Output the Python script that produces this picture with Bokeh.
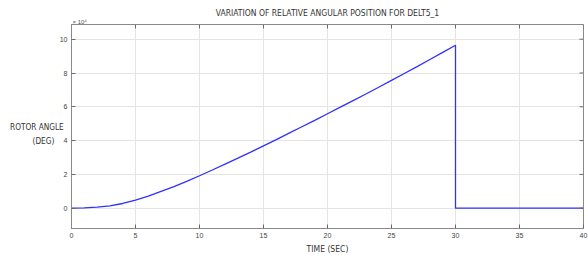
import math
from bokeh.plotting import figure
from bokeh.models import Range1d, FixedTicker, CustomJSTickFormatter, Title
from bokeh.embed import file_html
from bokeh.resources import INLINE

# Data (time in seconds, rotor angle in degrees)
time_sec = [0, 1, 2, 3, 4, 5, 6, 7, 8, 9, 10, 11, 12, 13, 14, 15, 16, 17, 18, 19, 20,
            21, 22, 23, 24, 25, 26, 27, 28, 29, 30, 30, 35, 40]
rotor_angle_deg = [0, 150, 600, 1400, 2800, 4800, 7200, 10000, 12800, 15900, 19200,
                   22600, 26100, 29600, 33200, 36900, 40600, 44400, 48200, 52000, 55900,
                   59800, 63700, 67600, 71600, 75600, 79700, 83800, 88000, 92200, 96400,
                   0, 0, 0]

x_ticks = [0, 5, 10, 15, 20, 25, 30, 35, 40]
y_ticks = [0, 20000, 40000, 60000, 80000, 100000]
x_min, x_max = 0, 40
y_min, y_max = -12000, 108700

title_text = "VARIATION OF RELATIVE ANGULAR POSITION FOR DELT5_1"
xlabel_text = "TIME (SEC)"
ylabel_text = "\nROTOR ANGLE\n(DEG)\u00a0\u00a0\u00a0\u00a0"
exponent_text = "\u00d7 10\u2074"

txt_font = "Liberation Sans Narrow, DejaVu Sans Condensed, Roboto Condensed, Roboto"

W, H = 588, 260
p = figure(width=W, height=H, output_backend="svg", toolbar_location=None, title=None,
           x_range=Range1d(x_min, x_max), y_range=Range1d(y_min, y_max),
           min_border_left=71, min_border_right=5, min_border_top=24, min_border_bottom=32)
p.background_fill_color = "white"
p.border_fill_color = "white"
p.outline_line_color = "#8a8a8a"
p.outline_line_width = 1

grid_color = "#e4e4e4"
p.xgrid.grid_line_color = grid_color
p.ygrid.grid_line_color = grid_color
p.xgrid.ticker = FixedTicker(ticks=x_ticks)
p.ygrid.ticker = FixedTicker(ticks=y_ticks)

p.line(time_sec, rotor_angle_deg, line_color="#3030ff", line_width=1.3)

# top and right box tick marks
p.scatter(x_ticks, [y_max] * len(x_ticks), marker="dash", size=8, angle=math.pi / 2,
          line_color="#6a6a6a", line_width=1)
p.scatter([x_max] * len(y_ticks), y_ticks, marker="dash", size=8,
          line_color="#6a6a6a", line_width=1)

fmt = CustomJSTickFormatter(code="return (tick/10000).toFixed(0);")
for ax, ticks in ((p.xaxis[0], x_ticks), (p.yaxis[0], y_ticks)):
    ax.ticker = FixedTicker(ticks=ticks)
    ax.axis_line_color = "#8a8a8a"
    ax.major_tick_line_color = "#6a6a6a"
    ax.major_tick_in = 4
    ax.major_tick_out = 0
    ax.minor_tick_line_color = None
    ax.major_label_text_font = "Liberation Sans"
    ax.major_label_text_font_size = "7px"
    ax.major_label_text_color = "#444444"
    ax.major_label_standoff = 4
    ax.axis_label_text_font = txt_font
    ax.axis_label_text_font_style = "normal"
    ax.axis_label_text_color = "#333333"
p.yaxis[0].formatter = fmt

p.xaxis[0].axis_label = xlabel_text
p.xaxis[0].axis_label_text_font_size = "8.5px"
p.xaxis[0].axis_label_standoff = 3
p.yaxis[0].axis_label = ylabel_text
p.yaxis[0].axis_label_text_font_size = "8.2px"
p.yaxis[0].axis_label_orientation = "horizontal"
p.yaxis[0].axis_label_standoff = -7
p.yaxis[0].axis_label_text_line_height = 1.4

# exponent (closest to the frame), then the main title above it
p.add_layout(Title(text=exponent_text, align="left", offset=1, text_font="Liberation Sans",
                   text_font_size="6px", text_font_style="normal", text_color="#555555",
                   standoff=0), "above")
p.add_layout(Title(text=title_text, align="center", text_font=txt_font,
                   text_font_size="8.5px", text_font_style="normal", text_color="#333333",
                   standoff=-2), "above")

open("out.html", "w").write(file_html(p, INLINE))
